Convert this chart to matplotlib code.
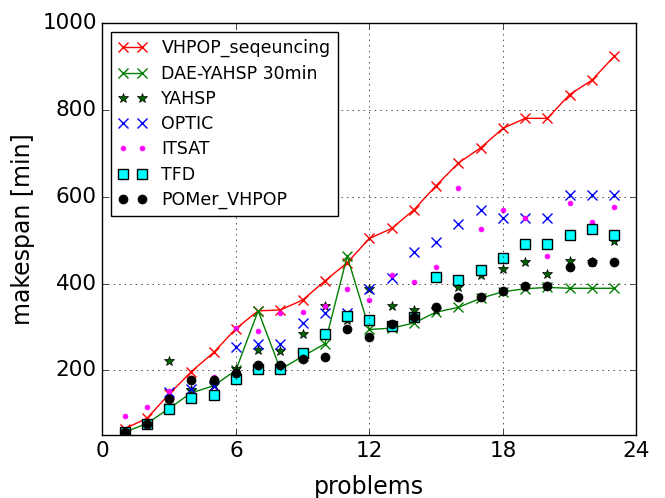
import numpy as np
import matplotlib
matplotlib.use('Agg')
import matplotlib.pyplot as plt

plt.style.use('classic')

problems = np.arange(1, 24)

vhpop_seq = [65, 89, 145, 197, 241, 296, 337, 339, 362, 406, 448, 504, 527, 570,
             626, 678, 713, 758, 781, 781, 836, 869, 924]
dae_yahsp = [57, 77, 112, 148, 164, 200, 337, 202, 232, 261, 463, 294, 297, 309,
             334, 345, 366, 381, 388, 391, 389, 389, 389]
yahsp = [57, 77, 222, 155, 165, 202, 246, 245, 284, 347, 316, 388, 347, 339,
         340, 392, 420, 433, 450, 421, 452, 450, 498]
optic = [57, 77, 149, 156, 164, 254, 261, 261, 309, 332, 333, 388, 412, 473,
         495, 537, 569, 551, 551, 551, 605, 605, 605]
itsat = [94, 116, 153, 182, 185, 297, 291, 332, 334, 347, 388, 362, 420, 404,
         439, 620, 525, 570, 551, 464, 586, 542, 576]
tfd = [57, 77, 110, 135, 144, 179, 203, 203, 240, 284, 324, 317, 301, 323,
       416, 408, 431, 459, 492, 492, 513, 525, 513]
pomer = [57, 77, 133, 177, 177, 194, 212, 212, 226, 230, 294, 276, 307, 323,
         346, 368, 370, 382, 394, 394, 439, 450, 450]

fig = plt.figure(figsize=(6.65, 4.98), dpi=100, facecolor='white')
ax = fig.add_axes([0.154, 0.126, 0.803, 0.827])

ax.plot(problems, vhpop_seq, 'r-x', lw=1, ms=7, mew=1, label='VHPOP_seqeuncing')
ax.plot(problems, dae_yahsp, 'g-x', lw=1, ms=7, mew=1, label='DAE-YAHSP 30min')
ax.plot(problems, yahsp, '*', color='darkgreen', mec='black', mew=0.5, ms=7,
        linestyle='none', label='YAHSP')
ax.plot(problems, optic, 'bx', ms=7, mew=1, label='OPTIC')
ax.plot(problems, itsat, '.', color='#ff00ff', ms=7, linestyle='none', label='ITSAT')
ax.plot(problems, tfd, 's', color='cyan', mec='black', mew=1, ms=6.5,
        linestyle='none', label='TFD')
ax.plot(problems, pomer, 'ko', ms=6.5, label='POMer_VHPOP')

ax.set_xlim(0, 24)
ax.set_ylim(50, 1000)
ax.set_xticks([0, 6, 12, 18, 24])
ax.set_yticks([200, 400, 600, 800, 1000])
ax.tick_params(labelsize=15.5)
ax.grid(True)
ax.set_xlabel('problems', fontsize=17, labelpad=10)
ax.set_ylabel('makespan [min]', fontsize=17)
ax.legend(loc='upper left', numpoints=2, fontsize=12.5, labelspacing=0.42,
          handlelength=1.7, borderaxespad=0.5)

fig.savefig('out.png', dpi=100, facecolor='white')
